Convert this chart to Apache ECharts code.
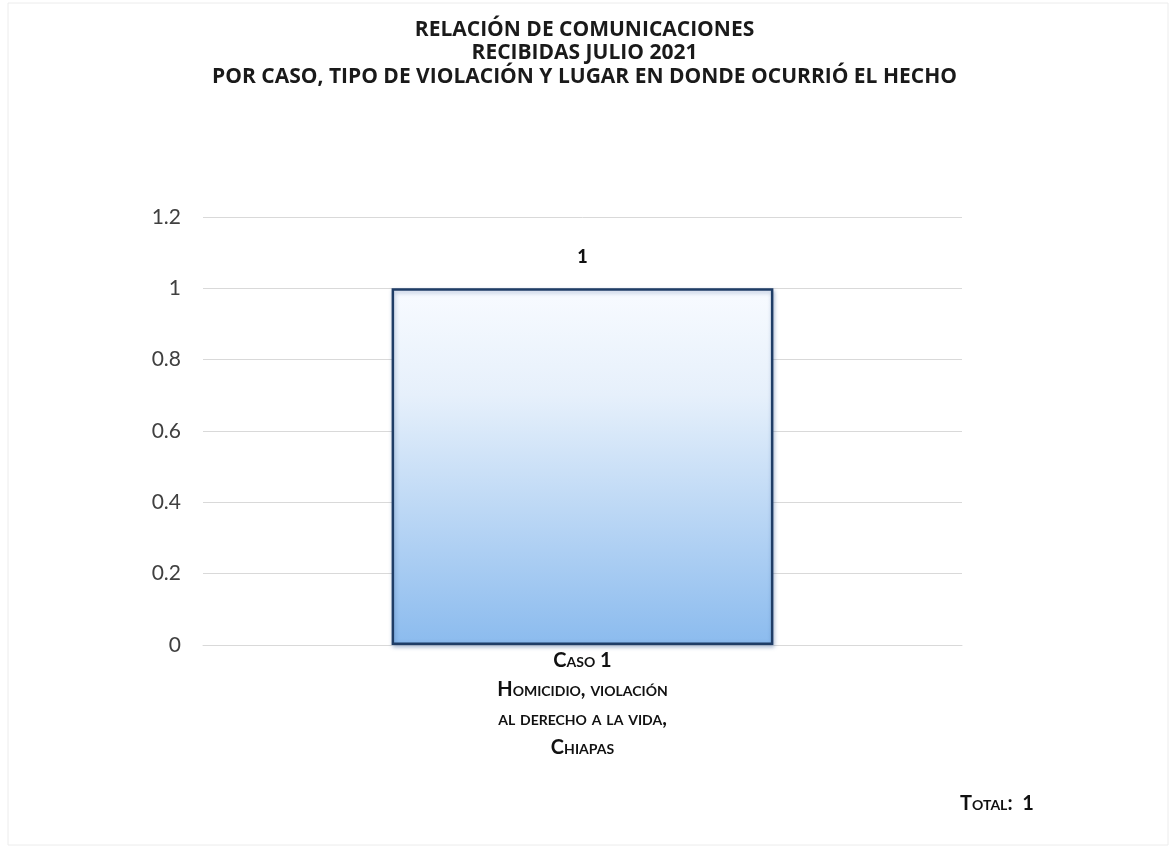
<!DOCTYPE html>
<html><head><meta charset="utf-8">
<script src="https://cdn.jsdelivr.net/npm/echarts@6/dist/echarts.min.js"></script>
<style>html,body{margin:0;padding:0;background:#fff}#c{width:1169px;height:852px}</style>
</head><body><div id="c"></div>
<script>
const titleLines = ['RELACIÓN DE COMUNICACIONES', 'RECIBIDAS JULIO 2021', 'POR CASO, TIPO DE VIOLACIÓN Y LUGAR EN DONDE OCURRIÓ EL HECHO'];
const categories = ['Caso 1\nHomicidio, violación\nal derecho a la vida,\nChiapas'];
const values = [1];
const yTicks = {min: 0, max: 1.2, interval: 0.2};
const totalText = 'Total:  1';

const chart = echarts.init(document.getElementById('c'));
const font = 'Lato, "Open Sans", sans-serif';
chart.setOption({
  backgroundColor: '#ffffff',
  animation: false,
  title: {
    text: titleLines.join('\n'), left: 'center', top: 13, padding: [5, 5, 5, 21],
    textStyle: {fontFamily: '"Open Sans", sans-serif', fontSize: 21, fontWeight: 'bold', color: '#1a1a1a', lineHeight: 23.5}
  },
  grid: {left: 203, right: 207, top: 217, bottom: 207},
  xAxis: {
    type: 'category', data: categories,
    axisLine: {show: true, lineStyle: {color: '#d9d9d9'}},
    axisTick: {show: false},
    axisLabel: {fontFamily: font, fontSize: 20, fontWeight: 'bold', fontStyle: 'small-caps', color: '#111', lineHeight: 29, margin: 1}
  },
  yAxis: {
    type: 'value', min: yTicks.min, max: yTicks.max, interval: yTicks.interval,
    axisLine: {show: false}, axisTick: {show: false},
    splitLine: {lineStyle: {color: '#d9d9d9'}},
    axisLabel: {fontFamily: font, fontSize: 21, color: '#404040', margin: 22}
  },
  series: [{
    type: 'bar', data: values, barWidth: '50.3%',
    itemStyle: {
      color: {type: 'linear', x: 0, y: 0, x2: 0, y2: 1, colorStops: [
        {offset: 0, color: '#f8fbff'}, {offset: 0.3, color: '#e6f0fb'}, {offset: 1, color: '#8bbbee'}]},
      borderColor: '#1f3d66', borderWidth: 2.5,
      shadowColor: 'rgba(40,80,140,0.35)', shadowBlur: 4, shadowOffsetX: 1, shadowOffsetY: 2
    },
    label: {show: true, position: 'top', distance: 22, fontFamily: font, fontSize: 18, fontWeight: 900, color: '#111'}
  }],
  graphic: [
    {type: 'rect', shape: {x: 8, y: 3, width: 1160, height: 842}, style: {fill: 'none', stroke: '#ececec', lineWidth: 1}, silent: true, z: -1},
    {type: 'text', left: 960, top: 794, style: {text: totalText, font: 'small-caps bold 20px Lato, sans-serif', fill: '#111'}}
  ]
});
</script></body></html>
